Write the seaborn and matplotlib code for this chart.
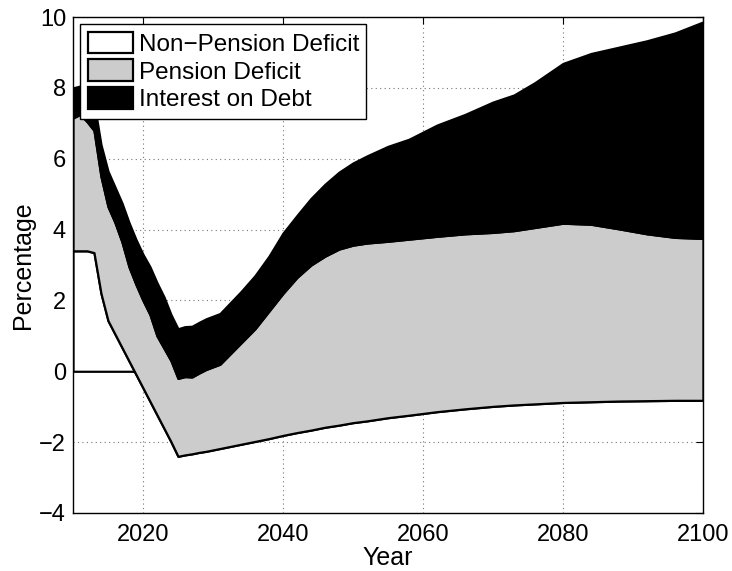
import numpy as np
import matplotlib
matplotlib.use('Agg')
import matplotlib.pyplot as plt
import seaborn as sns

# values (cumulative top of each band)
years = [2010, 2011, 2012, 2013, 2014, 2015, 2016, 2017, 2018, 2019, 2020, 2021, 2022,
         2023, 2024, 2025, 2026, 2027, 2028, 2029, 2031, 2034, 2036, 2038, 2040, 2042,
         2044, 2046, 2048, 2050, 2052, 2055, 2058, 2062, 2066, 2070, 2073, 2076, 2080,
         2084, 2088, 2092, 2096, 2100]
top_non_pension = [3.4, 3.4, 3.4, 3.35, 2.2, 1.43, 1.05, 0.67, 0.29, -0.09, -0.47, -0.85,
                   -1.23, -1.61, -1.99, -2.4, -2.36, -2.33, -2.29, -2.26, -2.18, -2.06,
                   -1.98, -1.9, -1.81, -1.73, -1.66, -1.58, -1.52, -1.45, -1.4, -1.31,
                   -1.24, -1.14, -1.06, -0.99, -0.95, -0.92, -0.88, -0.86, -0.84, -0.83,
                   -0.82, -0.82]
top_pension = [7.15, 7.25, 7.05, 6.8, 5.5, 4.65, 4.2, 3.65, 2.95, 2.45, 2.0, 1.6, 1.0,
               0.65, 0.3, -0.2, -0.15, -0.16, -0.05, 0.05, 0.2, 0.8, 1.2, 1.7, 2.2, 2.65,
               3.0, 3.25, 3.45, 3.56, 3.62, 3.67, 3.73, 3.81, 3.88, 3.92, 3.97, 4.06,
               4.18, 4.15, 4.02, 3.88, 3.78, 3.75]
top_interest = [8.0, 8.05, 8.0, 7.6, 6.4, 5.65, 5.2, 4.75, 4.2, 3.72, 3.3, 2.95, 2.5,
                2.1, 1.6, 1.2, 1.26, 1.27, 1.38, 1.48, 1.63, 2.25, 2.7, 3.25, 3.9, 4.4,
                4.88, 5.28, 5.62, 5.88, 6.08, 6.35, 6.55, 6.95, 7.25, 7.6, 7.8, 8.15,
                8.69, 8.97, 9.15, 9.33, 9.55, 9.86]
labels = ['Non\u2212Pension Deficit', 'Pension Deficit', 'Interest on Debt']
colors = ['white', '#cccccc', 'black']

non_pension = np.array(top_non_pension)
pension = np.array(top_pension) - non_pension
interest = np.array(top_interest) - np.array(top_pension)

sns.set_style('white')
plt.rcParams['font.family'] = ['Liberation Sans', 'DejaVu Sans']
plt.rcParams['text.color'] = 'black'
plt.rcParams['axes.labelcolor'] = 'black'

fig = plt.figure(figsize=(7.32, 5.71), dpi=100)
ax = fig.add_axes([0.0997, 0.1016, 0.8607, 0.8686])

ax.stackplot(years, non_pension, pension, interest, colors=colors, labels=labels,
             edgecolor='black', linewidth=1.6)

ax.set_xlim(2010, 2100)
ax.set_ylim(-4, 10)
ax.set_xticks([2020, 2040, 2060, 2080, 2100])
ax.set_yticks(np.arange(-4, 11, 2))
ax.grid(True, linestyle=(0, (1, 3)), color='#777777', linewidth=0.8)
ax.set_axisbelow(True)
ax.tick_params(axis='both', direction='in', top=True, right=True, labelsize=17,
               length=5, width=0.8, colors='black')
ax.tick_params(axis='x', pad=8)
ax.tick_params(axis='y', pad=5)
for s in ax.spines.values():
    s.set_color('black')
    s.set_linewidth(1.0)
    s.set_zorder(5)

ax.set_xlabel('Year', fontsize=18, labelpad=0)
ax.set_ylabel('Percentage', fontsize=18, labelpad=3)

leg = ax.legend(loc='upper left', fontsize=17.5, fancybox=False, framealpha=1,
                edgecolor='black', borderpad=0.3, labelspacing=0.15, handlelength=1.85,
                handleheight=1.0, handletextpad=0.25, borderaxespad=0.3)
leg.get_frame().set_linewidth(1.0)

fig.savefig('out.png', dpi=100)
